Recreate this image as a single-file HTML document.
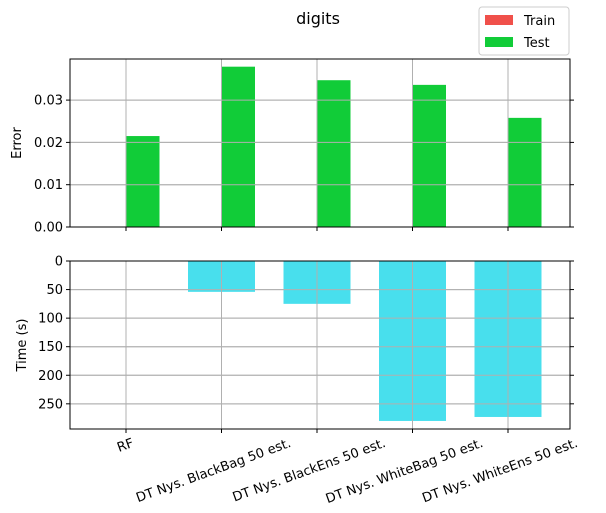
<!DOCTYPE html>
<html><head><meta charset="utf-8"><style>body{margin:0;background:#fff}svg{font-family:"DejaVu Sans","Liberation Sans",sans-serif}</style></head>
<body>
<svg id="c" width="606" height="508" viewBox="0 0 606 508"></svg>
<script>
const categories=["RF","DT Nys. BlackBag 50 est.","DT Nys. BlackEns 50 est.","DT Nys. WhiteBag 50 est.","DT Nys. WhiteEns 50 est."];
const trainError=[0,0,0,0,0];
const testError=[0.0215,0.0379,0.0347,0.0336,0.0258];
const timeValues=[0,54,75,280,273];
const errTicks=[0,0.01,0.02,0.03];
const errTickLabels=["0.00","0.01","0.02","0.03"];
const timeTicks=[0,50,100,150,200,250];

const NS="http://www.w3.org/2000/svg";
const svg=document.getElementById('c');
function el(t,a,txt){const e=document.createElementNS(NS,t);for(const k in a)e.setAttribute(k,a[k]);if(txt!==undefined)e.textContent=txt;svg.appendChild(e);return e;}
const L=70,R=570;
const x=i=>126+i*95.5;
const yErr=v=>227-v*4230;
const yTime=v=>261+v*0.5713;

function frame(top,bot,name){
  const f=el('rect',{x:L,y:top,width:R-L,height:bot-top,fill:'none',stroke:'#000','stroke-width':1});
  
  
}
categories.forEach((c,i)=>{const g=el('line',{x1:x(i),x2:x(i),y1:59,y2:227,stroke:'#b0b0b0','stroke-width':1});


const g2=el('line',{x1:x(i),x2:x(i),y1:261,y2:429,stroke:'#b0b0b0','stroke-width':1});

});
errTicks.forEach((t,i)=>{const y=yErr(t);
 const g=el('line',{x1:L,x2:R,y1:y,y2:y,stroke:'#b0b0b0','stroke-width':1});
 
 
 el('line',{x1:L-4,x2:L,y1:y,y2:y,stroke:'#000'});el('line',{x1:R,x2:R+4,y1:y,y2:y,stroke:'#000'});
 const t2=el('text',{x:L-7,y:y+4.5,'text-anchor':'end','font-size':13},errTickLabels[i]);
 
 });
timeTicks.forEach(t=>{const y=yTime(t);
 const g=el('line',{x1:L,x2:R,y1:y,y2:y,stroke:'#b0b0b0','stroke-width':1});
 
 
 el('line',{x1:L-4,x2:L,y1:y,y2:y,stroke:'#000'});el('line',{x1:R,x2:R+4,y1:y,y2:y,stroke:'#000'});
 const t2=el('text',{x:L-7,y:y+4.5,'text-anchor':'end','font-size':13},String(t));
 
 });
const bw=33.5;
categories.forEach((c,i)=>{
 const tr=el('rect',{x:x(i)-bw,y:yErr(trainError[i]),width:bw,height:227-yErr(trainError[i]),fill:'#f0504a'});
 
 
 const b=el('rect',{x:x(i),y:yErr(testError[i]),width:bw,height:227-yErr(testError[i]),fill:'#11cc38'});
 
 
 const t=el('rect',{x:x(i)-bw,y:261,width:2*bw,height:yTime(timeValues[i])-261,fill:'#48dfed'});
 
 
 el('line',{x1:x(i),x2:x(i),y1:227,y2:231,stroke:'#000'});
 el('line',{x1:x(i),x2:x(i),y1:429,y2:433,stroke:'#000'});
 el('line',{x1:x(i),x2:x(i),y1:59,y2:227,stroke:'#b0b0b0','stroke-width':1});
 el('line',{x1:x(i),x2:x(i),y1:261,y2:429,stroke:'#b0b0b0','stroke-width':1});
});
errTicks.forEach(t=>el('line',{x1:L,x2:R,y1:yErr(t),y2:yErr(t),stroke:'#b0b0b0'}));
timeTicks.forEach(t=>el('line',{x1:L,x2:R,y1:yTime(t),y2:yTime(t),stroke:'#b0b0b0'}));
frame(59,227,'error-axes');frame(261,429,'time-axes');
categories.forEach((c,i)=>{
 const t=el('text',{'text-anchor':'middle','font-size':13},c);
 
 
 const w=t.getComputedTextLength();
 const cy=436+(w*0.342+13*0.94)/2;
 t.setAttribute('transform',`translate(${x(i)-w*0.05},${cy}) rotate(-20) translate(0,4.5)`);
});
const yl=el('text',{'font-size':13,'text-anchor':'middle',transform:'translate(21,143) rotate(-90)'},'Error');


const yl2=el('text',{'font-size':13,'text-anchor':'middle',transform:'translate(26,345) rotate(-90)'},'Time (s)');


const ti=el('text',{x:318,y:24,'font-size':16,'text-anchor':'middle'},'digits');


const lg=el('rect',{x:479,y:7,width:90,height:48,fill:'#fff',stroke:'#ccc',rx:3});


el('rect',{x:485,y:15,width:28,height:10,fill:'#f0504a'});
el('rect',{x:485,y:37,width:28,height:10,fill:'#11cc38'});
const l1=el('text',{x:524,y:25,'font-size':13},'Train');


const l2=el('text',{x:524,y:47,'font-size':13},'Test');


</script>
</body></html>
